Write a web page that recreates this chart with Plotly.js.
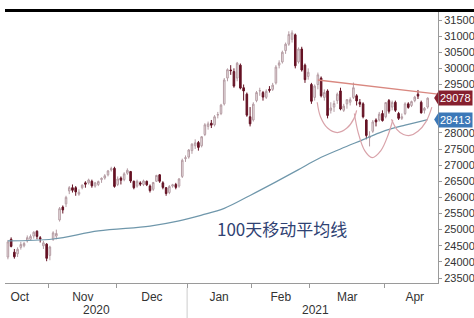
<!DOCTYPE html>
<html><head><meta charset="utf-8">
<script src="https://cdn.plot.ly/plotly-3.0.1.min.js"></script>
<style>html,body{margin:0;padding:0;background:#fff}#c{width:474px;height:318px}</style>
</head><body><div id="c"></div>
<script>
// Hang Seng Index daily candles, 2020-10-12 .. 2021-04-23 (trading-day index)
const openV = [24150,24700,24300,24250,24450,24500,24650,24700,24800,24950,24750,24500,24550,
24200,24700,24800,25300,25700,25800,26200,26300,26300,26100,26300,26450,26450,26500,26350,26400,26550,26600,26700,26850,26900,
26400,26600,26550,26750,26800,26500,26350,26450,26400,26500,26350,26250,26500,26700,26450,26300,26150,26350,26400,26350,26650,27200,
27250,27450,27600,27700,27600,27950,28200,28300,28250,28550,28600,28900,29700,29950,29900,29700,30100,29400,29200,28500,
28400,29000,29300,29250,29100,29350,29350,29550,30100,30200,30550,30750,30900,31040,30200,30600,30100,29750,
29500,29100,29500,29700,29100,29300,28700,28800,29000,29300,28700,28900,28950,29100,29150,28950,28900,28400,27850,28050,28400,28400,28600,
28500,29000,28800,28950,28600,28450,28600,28900,28850,29000,29200,28950,28700,28800];
const highV = [24680,24760,24400,24450,24620,24620,24820,24850,24950,24980,24800,24650,24580,
24500,24950,25000,25700,25750,26050,26350,26400,26350,26250,26400,26500,26580,26550,26480,26520,26620,26720,26850,26950,26950,
26650,26650,26780,26900,26820,26520,26550,26500,26550,26520,26400,26480,26700,26720,26500,26320,26380,26420,26450,26600,27200,27300,
27500,27680,27800,27750,27900,28300,28350,28400,28550,28650,28900,29700,30000,30100,30000,30200,30150,29500,29250,28800,
28950,29300,29400,29300,29350,29450,29550,30100,30250,30550,30800,31150,31180,31080,30650,30670,30150,30000,
29550,29500,29870,29750,29350,29350,28950,29000,29250,29400,28900,29050,29100,29560,29200,29050,28950,28420,28050,28400,28450,28650,28700,
28950,29050,29000,29000,28650,28600,28950,28950,29000,29150,29330,29000,28800,29100];
const lowV = [24080,24450,24100,24150,24380,24450,24600,24680,24720,24700,24600,24400,24020,
24050,24650,24700,25250,25500,25700,26100,26150,26050,26050,26250,26300,26400,26300,26300,26350,26450,26550,26650,26800,26300,
26350,26400,26500,26700,26450,26250,26300,26350,26350,26350,26150,26200,26480,26450,26250,26050,26100,26300,26250,26300,26600,27100,
27200,27350,27500,27450,27550,27900,28100,28150,28200,28450,28550,28850,29600,29800,29400,29600,29350,29000,28500,28200,
28350,28950,29150,29000,29050,29250,29300,29500,30000,30150,30450,30700,30800,30000,30150,29900,29550,29650,
28900,29000,29350,29100,29000,28450,28600,28650,28900,28700,28650,28750,28850,29050,28850,28800,28450,27800,27580,28000,28200,28350,28350,
28450,28600,28700,28650,28400,28400,28550,28750,28800,28950,29050,28600,28600,28750];
const closeV = [24620,24480,24160,24390,24540,24570,24750,24790,24920,24790,24710,24590,24110,
24460,24900,24880,25650,25610,26000,26300,26220,26170,26160,26380,26410,26540,26360,26450,26490,26590,26670,26820,26890,26340,
26570,26530,26730,26840,26510,26300,26500,26410,26510,26390,26210,26460,26680,26500,26310,26120,26340,26390,26310,26570,27150,27230,
27470,27650,27690,27550,27880,28250,28280,28240,28500,28570,28860,29640,29960,29930,29450,30160,29390,29300,28550,28280,
28890,29250,29310,29110,29290,29320,29480,30040,30170,30500,30750,31050,31100,30080,30600,29950,29650,29880,
28980,29450,29800,29150,29250,28540,28770,28910,29200,28740,28830,29030,29030,29400,28990,28890,28500,27920,27900,28340,28340,28580,28380,
28940,28670,28940,28700,28450,28500,28900,28790,28970,29110,29140,28620,28760,29078];

// 100-day moving average, read at a few trading-day positions
const maIdx = [0, 14, 28, 44, 53, 60, 67, 75, 83, 90, 96, 103, 110, 116, 123, 130];
const maVal = [24650, 24710, 24960, 25110, 25270, 25450, 25660, 26060, 26480, 26860, 27190, 27500, 27790, 28040, 28240, 28413];

// descending trendline (neckline top)
const trendIdx = [96, 133.2];
const trendVal = [29640, 29200];

// inverse head-and-shoulders arcs
const leftIdx = [95.8, 96.8, 99, 102, 105, 107.2, 108];
const leftVal = [28950, 28500, 28150, 28010, 28150, 28450, 28700];
const headIdx = [107.3, 108.5, 110.5, 112.8, 115.5, 117.8, 119.2];
const headVal = [28600, 28000, 27450, 27230, 27450, 27950, 28400];
const rightIdx = [118.8, 120.5, 122.5, 124.5, 127, 129.5, 131.3];
const rightVal = [28420, 28100, 27950, 27920, 28050, 28350, 28800];

const monthNames = ['Oct','Nov','Dec','Jan','Feb','Mar','Apr'];
const monthLabelPos = [3.7, 23.2, 44.6, 65.4, 84.5, 105.1, 126];
const monthBounds = [12.5, 33.5, 55.5, 75.5, 93.5, 116.5];
const yearNames = ['2020','2021'];
const yearPos = [27.5, 95.4];
const yearBoundary = 55.5;
const yTicks = [23500,24000,24500,25000,25500,26000,26500,27000,27500,28000,28500,29000,29500,30000,30500,31000,31500];
const yHidden = [28500, 29000]; // covered by the last-value boxes in the reference
const lastClose = 29078;
const lastMA = 28413;
const maLabel = '100天移动平均线';

const idx = closeV.map((_, i) => i);
const NARROW = 'Liberation Sans Narrow, Arial Narrow, sans-serif';
const arcStyle = {color: '#d9a3aa', width: 1.2, shape: 'spline'};

const traces = [
  {type: 'scatter', mode: 'lines', x: maIdx, y: maVal, line: {color: '#6f97ab', width: 1.2, shape: 'spline'}, hoverinfo: 'skip'},
  {type: 'scatter', mode: 'lines', x: trendIdx, y: trendVal, line: {color: '#d98880', width: 1.3}, hoverinfo: 'skip'},
  {type: 'scatter', mode: 'lines', x: leftIdx, y: leftVal, line: arcStyle, hoverinfo: 'skip'},
  {type: 'scatter', mode: 'lines', x: headIdx, y: headVal, line: arcStyle, hoverinfo: 'skip'},
  {type: 'scatter', mode: 'lines', x: rightIdx, y: rightVal, line: arcStyle, hoverinfo: 'skip'},
  {type: 'candlestick', x: idx, open: openV, high: highV, low: lowV, close: closeV,
   increasing: {line: {color: '#b59ca3', width: 1}, fillcolor: '#efe8ea'},
   decreasing: {line: {color: '#651224', width: 1}, fillcolor: '#651224'},
   whiskerwidth: 0, hoverinfo: 'skip'}
];

const plotH = 318 - 12 - 35;
const annotations = [
  {xref: 'paper', x: 1, xanchor: 'left', yref: 'y', y: lastClose, text: String(lastClose), showarrow: false,
   bgcolor: '#86202f', font: {family: NARROW, size: 11, color: '#ffffff'}, borderpad: 1, xshift: 0},
  {xref: 'paper', x: 1, xanchor: 'left', yref: 'y', y: lastMA, text: String(lastMA), showarrow: false,
   bgcolor: '#3b78b8', font: {family: NARROW, size: 11, color: '#ffffff'}, borderpad: 1, xshift: 0},
  {xref: 'x', x: 84.9, yref: 'y', y: 25020, text: maLabel, showarrow: false,
   font: {family: 'Noto Sans CJK SC', size: 17, color: '#2f4273'}}
];
yearNames.forEach((t, k) => annotations.push({xref: 'x', x: yearPos[k], yref: 'paper', y: -27 / plotH, yanchor: 'middle',
  text: t, showarrow: false, font: {family: NARROW, size: 12, color: '#333'}}));

const tri = (v, c) => ({type: 'path', xref: 'paper', yref: 'y', fillcolor: c, line: {width: 0},
  path: `M 1 ${v + 190} L 0.991 ${v} L 1 ${v - 190} Z`});

const layout = {
  width: 474, height: 318,
  margin: {l: 5, r: 36, t: 12, b: 35},
  paper_bgcolor: '#ffffff', plot_bgcolor: '#ffffff',
  showlegend: false,
  xaxis: {range: [-0.9, 133.2], showgrid: false, zeroline: false, showline: true, linecolor: '#9a9a9a', linewidth: 1,
    tickmode: 'array', tickvals: monthLabelPos, ticktext: monthNames, ticks: '', ticklabelstandoff: 3,
    tickfont: {family: NARROW, size: 12, color: '#333'},
    minor: {tickmode: 'array', tickvals: monthBounds, ticks: 'outside', ticklen: 4, tickcolor: '#9a9a9a'},
    rangeslider: {visible: false}, fixedrange: true},
  yaxis: {side: 'right', range: [23345, 31748], showgrid: false, zeroline: false, showline: true, linecolor: '#9a9a9a', linewidth: 1,
    tickmode: 'array', tickvals: yTicks, ticktext: yTicks.map(v => yHidden.includes(v) ? '' : String(v)),
    ticks: 'outside', ticklen: 3, tickcolor: '#9a9a9a',
    tickfont: {family: NARROW, size: 11, color: '#333'}, fixedrange: true},
  shapes: [
    {type: 'rect', xref: 'paper', yref: 'paper', x0: 0, x1: 1.1, y0: 1, y1: 1 + 3 / plotH, fillcolor: '#000', line: {width: 0}},
    {type: 'line', xref: 'x', yref: 'paper', x0: yearBoundary, x1: yearBoundary, y0: -5 / plotH, y1: -35 / plotH, line: {color: '#cccccc', width: 1}},
    tri(lastClose, '#86202f'), tri(lastMA, '#3b78b8')
  ],
  annotations: annotations
};

Plotly.newPlot('c', traces, layout, {displayModeBar: false, staticPlot: true});
</script></body></html>
